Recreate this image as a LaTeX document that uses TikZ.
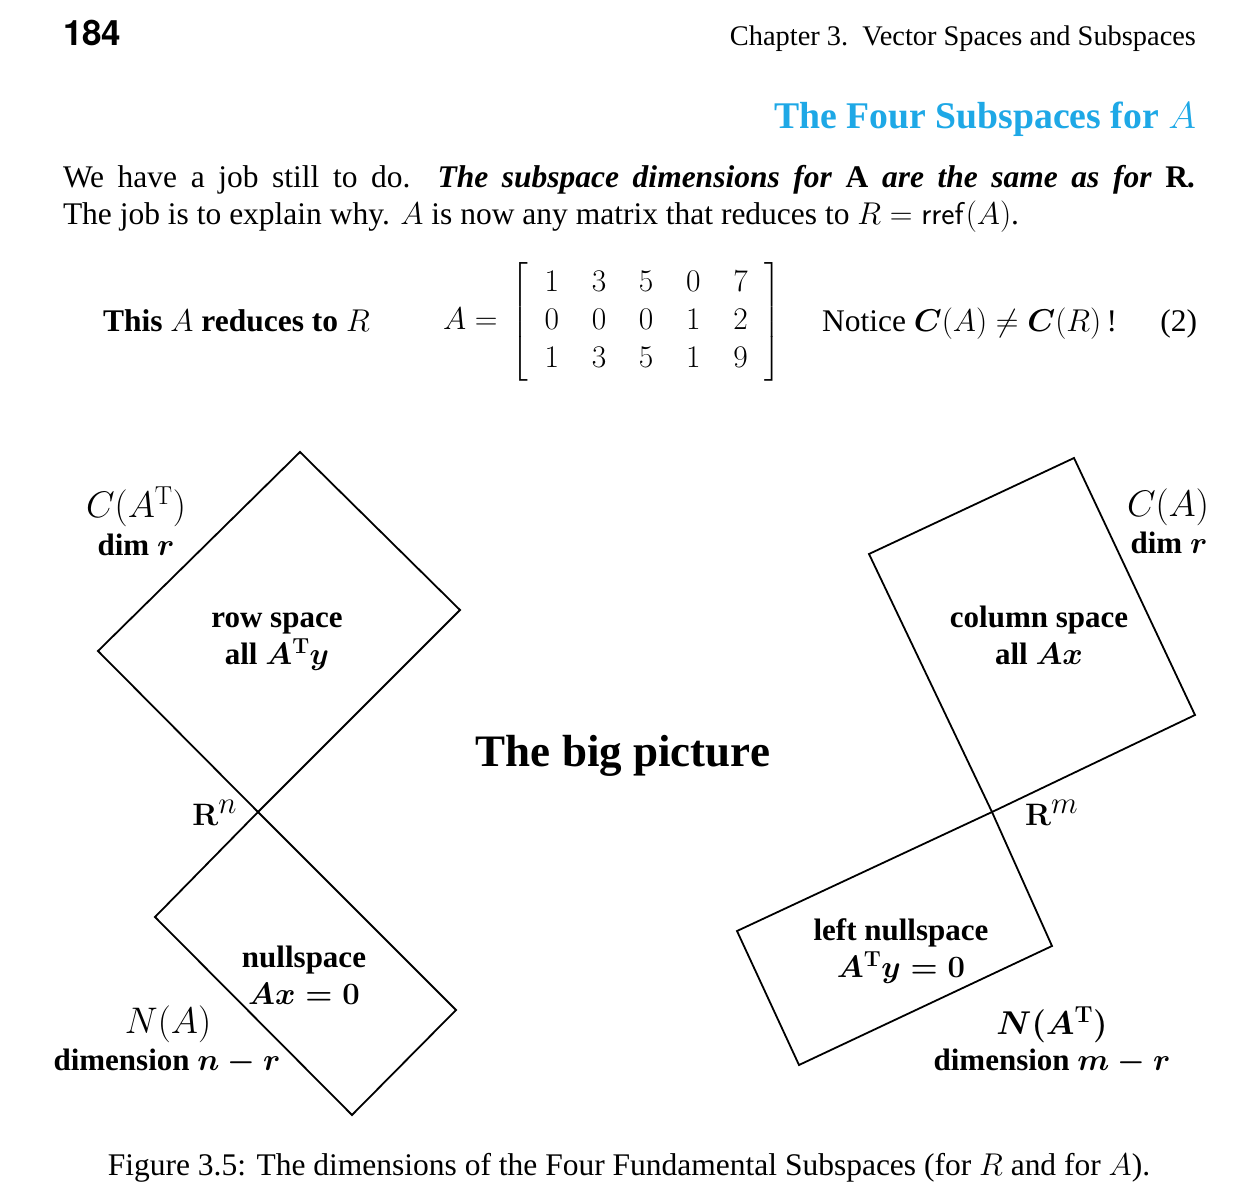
\RequirePackage{fix-cm}
\documentclass[tikz,border=0pt]{standalone}
\usepackage{amsmath}
\usepackage[no-math]{fontspec}
\setmainfont{Liberation Serif}
\newfontfamily\herosfont{TeX Gyre Heros}
\definecolor{titleblue}{RGB}{30,168,230}
\begin{document}
\begin{tikzpicture}[x=1pt,y=-1pt,
  txt/.style={inner sep=0pt,outer sep=0pt},
  body/.style={txt,font=\fontsize{31.5}{38}\selectfont},
  lab/.style={txt,align=center,font=\fontsize{31}{37}\selectfont\bfseries},
  biglab/.style={txt,align=center,font=\fontsize{37}{40}\selectfont\bfseries},
  space/.style={draw=black,line width=1.8pt,line join=miter}]
\fill[white] (0,0) rectangle (1240,1196);
\useasboundingbox (0,0) rectangle (1240,1196);

% header
\node[txt,anchor=base west,font=\herosfont\bfseries\fontsize{35}{40}\selectfont] (pg) at (63,46) {184};
\node[txt,anchor=base east,font=\fontsize{28.4}{32}\selectfont] (hd) at (1196,46) {Chapter 3.\enspace Vector Spaces and Subspaces};
\node[txt,anchor=base east,text=titleblue,font=\fontsize{37.7}{40}\selectfont\bfseries] (ttl) at (1196,129) {The Four Subspaces for $A$};

% paragraph
\node[body,anchor=base west] (l1) at (63,187) {\makebox[1133pt][s]{We have a job still to do.\ \ \textbf{\textit{The subspace dimensions for \textup{A} are the same as for \textup{R}.}}}};
\node[body,anchor=base west] (l2) at (63,224) {The job is to explain why. $A$ is now any matrix that reduces to $R=\mathsf{rref}(A)$.};

% equation line
\node[body,anchor=base west] (this) at (103,331) {\textbf{This $A$ reduces to $R$}};
\node[body,anchor=west] (mat) at (443,322) {$\setlength{\arraycolsep}{16.4pt}A=\mkern3mu\left[\begin{array}{ccccc}1&3&5&0&7\\0&0&0&1&2\\1&3&5&1&9\end{array}\right]$};
\node[body,anchor=base west] (notice) at (822,331) {Notice $\boldsymbol{C}(A)\neq\boldsymbol{C}(R)$\,!};
\node[body,anchor=base east] (eqno) at (1197,331) {(2)};

% left picture
\coordinate (On) at (258,812);
\coordinate (r1) at (98,651);
\coordinate (r2) at (300,452);
\coordinate (r3) at (460,610);
\coordinate (n1) at (456,1010);
\coordinate (n2) at (352,1115);
\coordinate (n3) at (155,917);
\draw[space] (On) -- (r1) -- (r2) -- (r3) -- cycle;
\draw[space] (On) -- (n1) -- (n2) -- (n3) -- cycle;

% right picture
\coordinate (Om) at (992,812);
\coordinate (c1) at (869,554);
\coordinate (c2) at (1074,458);
\coordinate (c3) at (1195,715);
\coordinate (z1) at (1052,946);
\coordinate (z2) at (799,1065);
\coordinate (z3) at (737,931);
\draw[space] (Om) -- (c1) -- (c2) -- (c3) -- cycle;
\draw[space] (Om) -- (z1) -- (z2) -- (z3) -- cycle;

% labels left
\node[biglab] (CAT) at (136,507) {$C(A^{\mathrm T})$};
\node[lab] (dimr1) at (136,545) {dim $\boldsymbol{r}$};
\node[lab] (row) at (277,642) {row space\\ all {\boldmath$A^{\mathrm T}y$}};
\node[lab,anchor=base east] (Rn) at (237,825) {$\mathbf{R}^{\textstyle n}$};
\node[lab] (null) at (304,975) {nullspace\\ {\boldmath$Ax=0$}};
\node[biglab] (NA) at (168,1024) {$N(A)$};
\node[lab] (dimnr) at (167,1062) {dimension {\boldmath$n-r$}};

% center
\node[txt,font=\fontsize{45}{50}\selectfont\bfseries] (big) at (623,756) {The big picture};

% labels right
\node[biglab] (CA) at (1168,507) {$C(A)$};
\node[lab] (dimr2) at (1169,543) {dim $\boldsymbol{r}$};
\node[lab] (col) at (1039,635) {column space\\ all {\boldmath$Ax$}};
\node[lab,anchor=base west] (Rm) at (1025,825) {$\mathbf{R}^{\textstyle m}$};
\node[lab] (lnull) at (901,951) {left nullspace\\ {\boldmath$A^{\mathrm T}y=0$}};
\node[lab,font=\fontsize{33}{37}\selectfont\bfseries] (NAT) at (1052,1025) {{\boldmath$N(A^{\mathrm T})$}};
\node[lab] (dimmr) at (1052,1062) {dimension {\boldmath$m-r$}};

% caption
\node[body,anchor=base] (cap) at (629,1175) {Figure 3.5: The dimensions of the Four Fundamental Subspaces (for $R$ and for $A$).};
\end{tikzpicture}
\end{document}
